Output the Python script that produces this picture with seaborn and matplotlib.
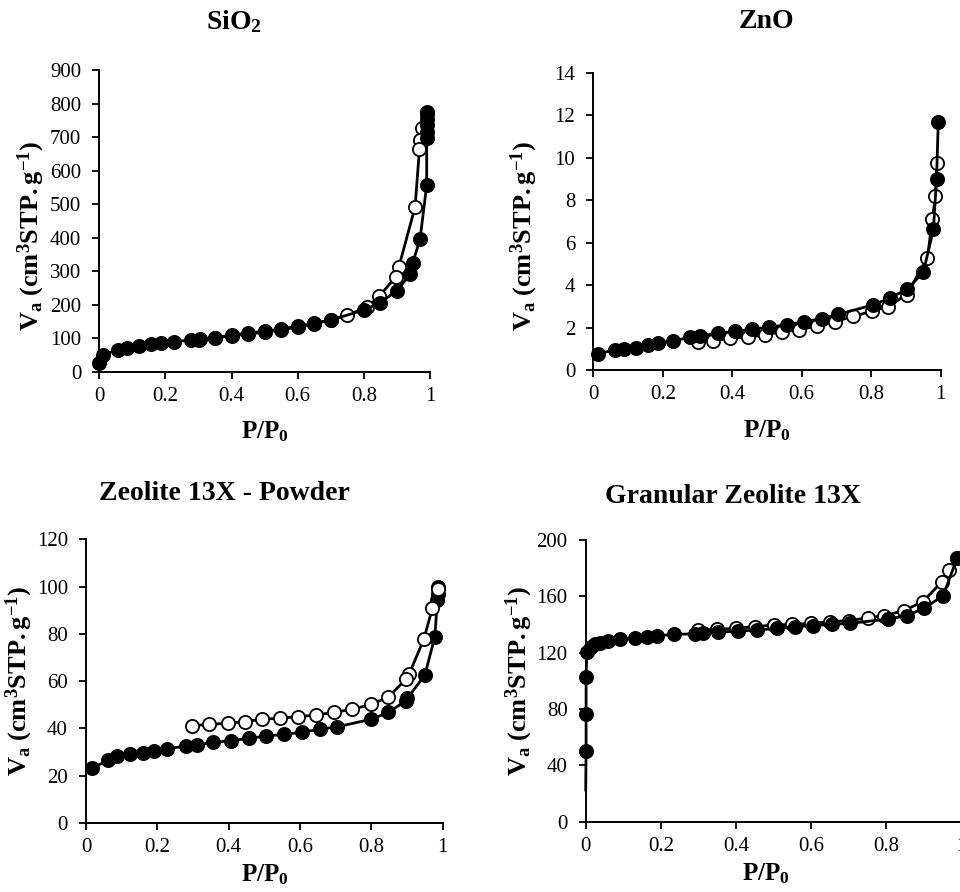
import matplotlib
matplotlib.use("Agg")
import matplotlib.pyplot as plt
from matplotlib.ticker import FuncFormatter, MultipleLocator
import seaborn as sns
import pandas as pd

# ---- SiO2 isotherm ----
sio2_ads_x = [0.0, 0.012, 0.056, 0.085, 0.121, 0.155, 0.187, 0.227, 0.276, 0.305,
              0.35, 0.40, 0.45, 0.50, 0.55, 0.60, 0.65, 0.70, 0.80, 0.85, 0.90,
              0.94, 0.948, 0.97, 0.99, 0.99, 0.991, 0.991, 0.992, 0.992]
sio2_ads_v = [25, 50, 65, 70, 77, 83, 85, 89, 95, 97,
              101, 110, 115, 121, 127, 136, 144, 154, 184, 206, 242,
              291, 325, 396, 557, 697, 715, 735, 755, 775]
sio2_des_x = [0.992, 0.975, 0.97, 0.968, 0.955, 0.906, 0.897, 0.847, 0.81, 0.75,
              0.70, 0.65, 0.60, 0.55, 0.50, 0.45, 0.40, 0.35, 0.30]
sio2_des_v = [770, 728, 691, 663, 492, 313, 283, 226, 192, 169,
              155, 143, 133, 125, 118, 112, 107, 101, 96]

# ---- ZnO isotherm ----
zno_ads_x = [0.014, 0.062, 0.088, 0.123, 0.158, 0.187, 0.228, 0.278, 0.307, 0.36,
             0.408, 0.456, 0.507, 0.557, 0.607, 0.657, 0.705, 0.806, 0.854, 0.904,
             0.95, 0.979, 0.988, 0.993]
zno_ads_v = [0.76, 0.95, 0.99, 1.05, 1.18, 1.26, 1.37, 1.54, 1.61, 1.73,
             1.82, 1.92, 2.02, 2.13, 2.27, 2.42, 2.62, 3.07, 3.39, 3.81,
             4.60, 6.62, 9.0, 11.66]
zno_des_x = [0.99, 0.985, 0.976, 0.962, 0.902, 0.849, 0.801, 0.747, 0.696, 0.643,
             0.593, 0.542, 0.494, 0.446, 0.394, 0.345, 0.30]
zno_des_v = [9.77, 8.19, 7.12, 5.28, 3.55, 2.99, 2.76, 2.52, 2.28, 2.08,
             1.89, 1.81, 1.65, 1.55, 1.50, 1.38, 1.33]

# ---- Zeolite 13X powder isotherm ----
pow_ads_x = [0.016, 0.062, 0.087, 0.123, 0.161, 0.19, 0.228, 0.28, 0.31, 0.357,
             0.407, 0.456, 0.506, 0.556, 0.605, 0.655, 0.705, 0.80, 0.848, 0.897,
             0.901, 0.95, 0.978, 0.985, 0.986, 0.987]
pow_ads_v = [23.1, 26.6, 28.3, 29.2, 29.7, 30.5, 31.3, 32.6, 33.0, 34.1,
             34.8, 35.8, 36.8, 37.5, 38.4, 39.6, 40.7, 43.9, 46.8, 51.7,
             52.7, 62.6, 78.8, 94.3, 97.0, 99.7]
pow_des_x = [0.987, 0.971, 0.947, 0.906, 0.897, 0.847, 0.799, 0.747, 0.695, 0.645,
             0.595, 0.544, 0.494, 0.446, 0.397, 0.345, 0.297]
pow_des_v = [99.0, 90.8, 77.7, 63.0, 60.8, 53.2, 50.2, 48.1, 46.8, 45.7,
             45.0, 44.3, 43.9, 42.9, 42.2, 41.7, 41.2]

# ---- Granular zeolite 13X isotherm ----
gran_tail_x = [0.0, 0.001]
gran_tail_v = [22, 50]
gran_ads_x = [0.001, 0.001, 0.001, 0.003, 0.013, 0.025, 0.038, 0.06, 0.09, 0.13,
              0.162, 0.19, 0.235, 0.29, 0.313, 0.353, 0.406, 0.455, 0.509, 0.557,
              0.606, 0.655, 0.704, 0.804, 0.855, 0.899, 0.951, 0.988]
gran_ads_v = [50, 76.5, 102.5, 120.7, 124.3, 126, 127, 128.5, 129.5, 130.2,
              131.4, 132, 133, 133.4, 134, 134.5, 135.4, 136, 137.3, 138.5,
              139.2, 140.1, 140.8, 143.9, 146.3, 151.5, 160.2, 187]
gran_des_x = [0.988, 0.966, 0.948, 0.897, 0.846, 0.795, 0.751, 0.70, 0.65, 0.60,
              0.55, 0.50, 0.45, 0.40, 0.35, 0.30]
gran_des_v = [187, 178.7, 170.4, 156.2, 149.8, 146.3, 144.8, 142.7, 142, 140.8,
              140.1, 139.6, 138.5, 137.3, 136.6, 136]

titles = [r"SiO$_\mathbf{2}$", "ZnO", "Zeolite 13X - Powder", "Granular Zeolite 13X"]
x_ticks = [0, 0.2, 0.4, 0.6, 0.8, 1]

sns.set_style("ticks")
plt.rcParams["font.family"] = ["Liberation Serif", "DejaVu Serif"]
plt.rcParams["mathtext.fontset"] = "custom"
plt.rcParams["mathtext.rm"] = "Liberation Serif"
plt.rcParams["mathtext.it"] = "Liberation Serif:italic"
plt.rcParams["mathtext.bf"] = "Liberation Serif:bold"
for key in ("text.color", "axes.labelcolor", "axes.edgecolor",
            "xtick.color", "ytick.color"):
    plt.rcParams[key] = "black"

W, H = 960, 892
fig = plt.figure(figsize=(W / 100, H / 100), dpi=100)


def px_axes(left, right, top, bottom):
    return fig.add_axes([left / W, 1 - bottom / H, (right - left) / W, (bottom - top) / H])


LW = 2.0
MS = 9.5


def draw(ax, x, v, filled, line_only=False, z=2):
    df = pd.DataFrame({"p": x, "v": v})
    kw = dict(data=df, x="p", y="v", ax=ax, sort=False, estimator=None,
              color="black", lw=LW, zorder=z, clip_on=False)
    if not line_only:
        kw.update(marker="o", markersize=MS, markeredgecolor="black",
                  markeredgewidth=1.3,
                  markerfacecolor="black" if filled else "white")
    sns.lineplot(**kw)


def style(ax, ymax, ystep, ylab_x, xlab_y, xlab_x=0.5, ylab_y=0.5):
    ax.set_xlim(0, 1)
    ax.set_ylim(0, ymax)
    ax.set_xticks(x_ticks)
    ax.yaxis.set_major_locator(MultipleLocator(ystep))
    ax.xaxis.set_major_formatter(FuncFormatter(lambda t, _: f"{t:g}"))
    ax.yaxis.set_major_formatter(FuncFormatter(lambda t, _: f"{t:g}"))
    for s in ("top", "right"):
        ax.spines[s].set_visible(False)
    for s in ("left", "bottom"):
        ax.spines[s].set_linewidth(1.4)
        ax.spines[s].set_color("black")
        ax.spines[s].set_zorder(1)
    ax.tick_params(axis="both", direction="out", length=5, width=1.3,
                   colors="black", labelsize=15)
    ax.tick_params(axis="x", pad=6)
    ax.tick_params(axis="y", pad=8)
    ax.set_xlabel(r"$\mathbf{P/P_0}$", fontsize=18)
    ax.set_ylabel(r"$\mathbf{V_a\ (cm^3STP.g^{-1})}$", fontsize=19)
    ax.xaxis.set_label_coords(xlab_x, xlab_y)
    ax.yaxis.set_label_coords(ylab_x, ylab_y)


# SiO2
ax1 = px_axes(99.3, 430, 70, 371.7)
draw(ax1, sio2_des_x, sio2_des_v, False)
draw(ax1, sio2_ads_x, sio2_ads_v, True, z=3)
style(ax1, 900, 100, -0.158, -0.158, ylab_y=0.45)

# ZnO
ax2 = px_axes(593.3, 940.7, 72.7, 370)
draw(ax2, zno_des_x, zno_des_v, False)
draw(ax2, zno_ads_x, zno_ads_v, True, z=3)
style(ax2, 14, 2, -0.153, -0.162, ylab_y=0.45)

# Zeolite 13X powder
ax3 = px_axes(86, 442.7, 539.3, 823)
draw(ax3, pow_ads_x, pow_ads_v, True)
draw(ax3, pow_des_x, pow_des_v, False, z=3)
style(ax3, 120, 20, -0.143, -0.14)

# Granular zeolite 13X
ax4 = px_axes(585.7, 961.5, 540, 821.7)
draw(ax4, gran_tail_x, gran_tail_v, True, line_only=True)
draw(ax4, gran_des_x, gran_des_v, False)
draw(ax4, gran_ads_x, gran_ads_v, True, z=3)
style(ax4, 200, 40, -0.135, -0.142, xlab_x=0.48)

for ax in (ax1, ax2, ax3, ax4):
    if ax.get_legend() is not None:
        ax.get_legend().remove()

title_pos = [(234, 22), (766, 22), (224, 493), (733, 496)]
for t, (tx, ty) in zip(titles, title_pos):
    fig.text(tx / W, 1 - ty / H, t, ha="center", va="center",
             fontsize=20, fontweight="bold")

fig.savefig("out.png", dpi=100)
